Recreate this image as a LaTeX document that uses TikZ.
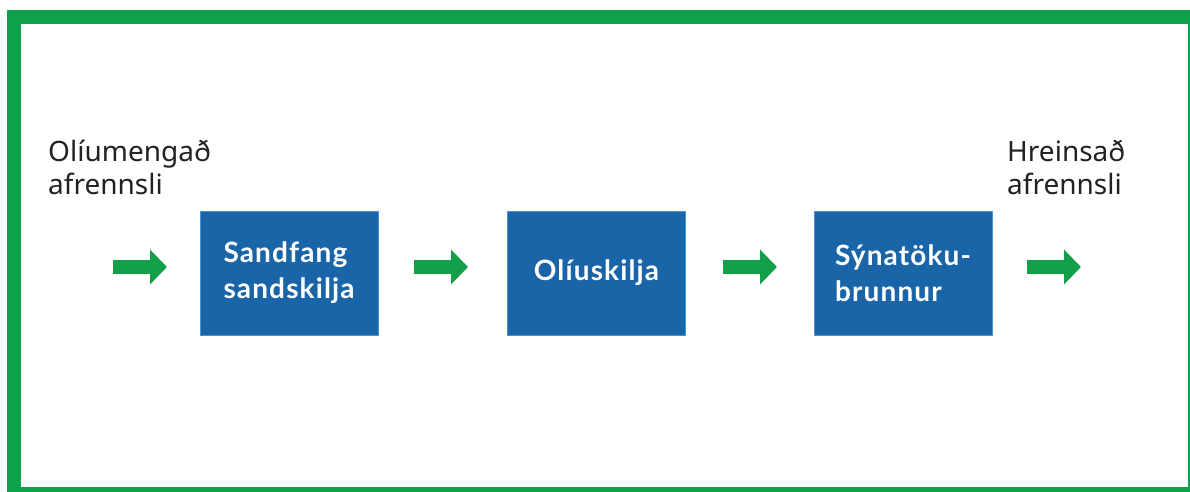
\documentclass[tikz,border=0pt]{standalone}
\usepackage{fontspec}
\setmainfont{Noto Sans}
\newfontfamily\boxfont[LetterSpace=4]{Lato}
\usetikzlibrary{arrows.meta}
\definecolor{framegreen}{HTML}{0FA04B}
\definecolor{arrowgreen}{HTML}{13A048}
\definecolor{boxblue}{HTML}{1A64A8}
\definecolor{boxrim}{HTML}{4A93D6}
\definecolor{labelgray}{HTML}{222222}
\tikzset{
  stepbox/.style={fill=boxblue, draw=boxrim, line width=0.8pt, minimum width=178pt, minimum height=124pt,
    inner sep=0pt, text=white, align=left, font=\boxfont\bfseries\fontsize{28}{36}\selectfont},
  sidelabel/.style={anchor=north west, inner sep=0pt, align=left, text=labelgray,
    font=\fontsize{28}{33}\selectfont},
  flow/.style={arrowgreen, line width=14pt, -{Triangle[length=17pt,width=34pt]}}
}
\begin{document}
\begin{tikzpicture}[x=1pt,y=-1pt]
\useasboundingbox (0,0) rectangle (1190,492);
\clip (0,0) rectangle (1190,492);
% frame
\fill[framegreen] (7,10) rectangle (1202,502);
\fill[white] (21,24) rectangle (1188,487);
% boxes
\node[stepbox] (b1) at (289,273) {Sandfang\\sandskilja};
\node[stepbox] (b2) at (596.5,273) {Olíuskilja};
\node[stepbox] (b3) at (903,273) {Sýnatöku-\\brunnur};
% labels
\node[sidelabel] (in) at (48,140) {Olíumengað\\afrennsli};
\node[sidelabel] (out) at (1007,140) {Hreinsað\\afrennsli};
% arrows
\coordinate (a1s) at (113,267); \coordinate (a1e) at (167,267);
\coordinate (a2s) at (414,267); \coordinate (a2e) at (468,267);
\coordinate (a3s) at (723,267); \coordinate (a3e) at (777,267);
\coordinate (a4s) at (1027,267); \coordinate (a4e) at (1081,267);
\draw[flow] (a1s) -- (a1e);
\draw[flow] (a2s) -- (a2e);
\draw[flow] (a3s) -- (a3e);
\draw[flow] (a4s) -- (a4e);
\end{tikzpicture}
\end{document}
